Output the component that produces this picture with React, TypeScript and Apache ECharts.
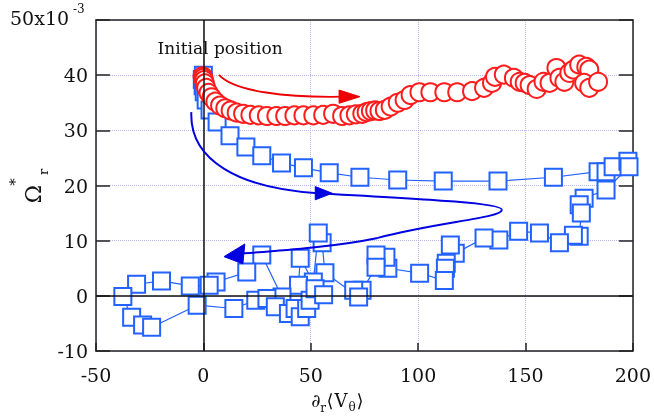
import React, { useEffect, useRef } from "react";
import * as echarts from "echarts";

// Red circles trajectory (x = ∂r<Vθ>, y = Ω* ×10^-3)
const redX = [-0.4, 0, 0.3, 0.7, 1.3, 2.4, 3.8, 5.6, 7.8, 10.2, 12.7, 15.5, 18.5, 21.9, 25.8, 29.6, 34.0, 38.1, 42.4, 46.6, 51.2, 55.8, 60.4, 64.6, 68.0, 71.0, 74.0, 76.0, 78.0, 80.0, 82.0, 84.5, 87.2, 90.5, 93.7, 96.5, 100.6, 105.7, 112.2, 118.2, 125.1, 130.7, 134.4, 135.8, 139.9, 144.6, 147.3, 149.6, 151.9, 155.2, 158.4, 161.2, 164.4, 165.8, 168.1, 170.4, 172.3, 175.0, 178.3, 179.7, 177.3, 179.7, 183.8];
const redY = [39.8, 39.5, 39.1, 38.5, 37.7, 36.8, 36.0, 35.2, 34.5, 34.0, 33.6, 33.2, 33.0, 32.8, 32.7, 32.6, 32.6, 32.6, 32.7, 32.7, 32.7, 32.8, 33.0, 32.6, 32.7, 32.9, 33.0, 33.3, 33.5, 33.6, 33.5, 33.7, 34.3, 35.0, 35.5, 36.4, 36.9, 36.9, 36.9, 36.9, 37.1, 37.7, 38.6, 39.7, 40.1, 39.5, 38.8, 38.6, 38.2, 37.5, 38.8, 38.6, 41.3, 39.5, 38.8, 40.4, 41.0, 41.9, 41.5, 41.0, 38.6, 37.7, 38.8];

// Blue squares trajectory
const blueX = [0, -0.5, -0.1, 0.4, 1.3, 3.1, 6.4, 12.4, 19.8, 27.2, 36.4, 46.6, 58.6, 72.9, 90.5, 111.7, 137.2, 163.0, 183.8, 187.5, 190.8, 197.7, 198.2, 187.5, 177.3, 175.0, 176.0, 175.0, 172.3, 165.8, 156.5, 146.8, 137.6, 130.7, 117.3, 115.0, 113.1, 112.7, 112.2, 100.7, 85.9, 85.0, 80.4, 80.4, 73.9, 70.0, 72.3, 56.6, 55.3, 53.5, 51.2, 45.1, 44.3, 36.6, 27.2, 20.2, 5.9, 2.7, -6.1, -19.5, -31.1, -37.5, -33.4, -28.3, -24.1, -2.9, 14.2, 24.4, 29.6, 33.5, 39.6, 42.7, 45.1, 48.1, 49.7, 52.0, 56.0];
const blueY = [40, 39.2, 38.1, 37.0, 35.5, 33.7, 31.5, 29.0, 27.0, 25.4, 24.1, 23.2, 22.3, 21.5, 21.0, 20.8, 20.8, 21.5, 22.5, 22.5, 23.4, 24.4, 23.4, 19.2, 17.7, 16.5, 15.0, 10.8, 11.0, 9.6, 11.4, 11.7, 10.1, 10.5, 7.7, 9.2, 5.9, 5.0, 2.8, 4.1, 5.0, 7.0, 7.4, 5.2, 1.0, 1.0, -0.2, 4.2, 9.6, 11.4, 2.5, 6.8, 1.9, -0.2, 7.4, 4.3, 2.5, 1.9, 1.8, 2.7, 2.1, -0.1, -3.9, -5.3, -5.7, -1.7, -2.3, -0.8, -0.5, -2.0, -3.2, -2.3, -3.8, -2.3, -0.8, 1.3, 0.2];

const xTicks = [-50, 0, 50, 100, 150, 200];
const yTicks = [-10, 0, 10, 20, 30, 40, 50];

// Annotation arrows, in data coordinates
const redArrow = { p0: [7.3, 40.05], c1: [14.2, 37.0], c2: [39.6, 35.9], p3: [65.1, 36.1], tip: [72.9, 36.1], b1: [63.2, 37.3], b2: [63.2, 34.9] };
const blueArrowSegs = [
  { p0: [-5.6, 33.3], c1: [-6.6, 24.6], c2: [16.5, 19.5], p3: [53.5, 18.6] },
  { p0: [53.5, 18.6], c1: [104.3, 17.5], c2: [139.0, 16.8], p3: [139.0, 15.6] },
  { p0: [139.0, 15.6], c1: [139.0, 14.1], c2: [109.0, 13.4], p3: [81.2, 10.5] },
  { p0: [81.2, 10.5], c1: [62.8, 9.0], c2: [39.6, 8.3], p3: [18.9, 7.7] },
];
const blueHeads = [
  { tip: [60.0, 18.6], b1: [52.1, 19.8], b2: [52.1, 17.4] },
  { tip: [9.6, 7.1], b1: [19.3, 9.4], b2: [18.4, 5.8] },
];

const SERIF = '"DejaVu Serif", "Liberation Serif", serif';
const BLUE = "#2262ff";
const RED = "#ff1c1c";

export default function App() {
  const ref = useRef<HTMLDivElement>(null);
  useEffect(() => {
    if (!ref.current) return;
    const chart = echarts.init(ref.current, null, { renderer: "svg" });
    const bluePts = blueX.map((x, i) => [x, blueY[i]]);
    const redPts = redX.map((x, i) => [x, redY[i]]);
    const axisCommon = {
      type: "value" as const,
      axisLine: { show: true, onZero: false, lineStyle: { color: "#222", width: 1.5 } },
    };
    chart.setOption({
      animation: false,
      grid: { left: 96, right: 17, top: 20, bottom: 68, containLabel: false },
      xAxis: [
        {
          ...axisCommon,
          position: "bottom",
          min: xTicks[0],
          max: xTicks[xTicks.length - 1],
          interval: 50,
          axisTick: { show: true, inside: true, length: 8, lineStyle: { color: "#222", width: 1.5 } },
          axisLabel: { fontFamily: SERIF, fontSize: 19, color: "#111", margin: 14 },
          splitLine: { show: true, lineStyle: { type: "dotted", color: "#b8b8f0", width: 1 } },
        },
        {
          ...axisCommon,
          position: "top",
          min: xTicks[0],
          max: xTicks[xTicks.length - 1],
          interval: 50,
          axisTick: { show: false },
          axisLabel: { show: false },
          splitLine: { show: false },
        },
      ],
      yAxis: [
        {
          ...axisCommon,
          position: "left",
          min: yTicks[0],
          max: yTicks[yTicks.length - 1],
          interval: 10,
          axisTick: { show: true, inside: true, length: 14, lineStyle: { color: "#222", width: 1.5 } },
          axisLabel: {
            fontFamily: SERIF,
            fontSize: 19,
            color: "#111",
            margin: 8,
            formatter: (v: number) => (v === 50 ? "" : String(v)),
          },
          splitLine: { show: true, lineStyle: { type: "dotted", color: "#b8b8f0", width: 1 } },
        },
        {
          ...axisCommon,
          position: "right",
          min: yTicks[0],
          max: yTicks[yTicks.length - 1],
          interval: 10,
          axisTick: { show: true, inside: true, length: 14, lineStyle: { color: "#222", width: 1.5 } },
          axisLabel: { show: false },
          splitLine: { show: false },
        },
      ],
      series: [
        {
          name: "zero",
          type: "line",
          data: [[0, 0]],
          showSymbol: false,
          lineStyle: { width: 0 },
          z: 1,
          markLine: {
            silent: true,
            symbol: ["none", "none"],
            label: { show: false },
            lineStyle: { color: "#111", type: "solid", width: 1.5 },
            data: [{ xAxis: 0 }, { yAxis: 0 }],
          },
        },
        {
          name: "blue",
          type: "line",
          data: bluePts,
          symbol: "rect",
          symbolSize: 17,
          showSymbol: true,
          showAllSymbol: true,
          itemStyle: { color: "#ffffff", borderColor: BLUE, borderWidth: 2, opacity: 1 },
          lineStyle: { color: BLUE, width: 1.2 },
          z: 3,
        },
        {
          name: "red",
          type: "scatter",
          data: redPts,
          symbol: "circle",
          symbolSize: 18,
          itemStyle: { color: "#ffffff", borderColor: RED, borderWidth: 2, opacity: 1 },
          z: 4,
        },
      ],
    });

    const px = (p: number[]) => chart.convertToPixel({ gridIndex: 0 }, p) as number[];
    const bez = (s: any, color: string, w: number) => {
      const a = px(s.p0), b = px(s.c1), c = px(s.c2), d = px(s.p3);
      return {
        type: "bezierCurve",
        shape: { x1: a[0], y1: a[1], cpx1: b[0], cpy1: b[1], cpx2: c[0], cpy2: c[1], x2: d[0], y2: d[1] },
        style: { stroke: color, lineWidth: w, fill: null },
        z: 10,
      };
    };
    const head = (h: any, color: string) => ({
      type: "polygon",
      shape: { points: [px(h.tip), px(h.b1), px(h.b2)] },
      style: { fill: color, stroke: color, lineWidth: 1 },
      z: 11,
    });
    const txt = (text: string, x: number, y: number, size: number, extra: any = {}) => ({
      type: "text",
      x,
      y,
      style: { text, fontFamily: SERIF, fontSize: size, fill: "#111", align: "center", verticalAlign: "middle", ...extra },
      z: 12,
    });
    const ip = px([7.8, 44.9]);

    chart.setOption({
      graphic: [
        bez(redArrow, "#ee0000", 1.8),
        head(redArrow, "#ee0000"),
        ...blueArrowSegs.map((s) => bez(s, "#0000e0", 2)),
        ...blueHeads.map((h) => head(h, "#0000e0")),
        txt("Initial position", ip[0], ip[1], 17),
        txt("50x10", 10, 18, 19, { align: "left" }),
        txt("-3", 73, 9, 12, { align: "left" }),
        {
          type: "group",
          x: 42,
          y: 202,
          rotation: Math.PI / 2,
          children: [
            txt("Ω", 8, -9, 22),
            txt("*", 20, -27, 15),
            txt("r", 30, 1, 13),
          ],
        },
        txt("∂", 316, 400, 18),
        txt("r", 323, 408, 12),
        txt("⟨", 330, 400, 18),
        txt("V", 341, 400, 18),
        txt("θ", 352, 407, 12),
        txt("⟩", 360, 400, 18),
      ],
    });
    return () => chart.dispose();
  }, []);
  return <div ref={ref} style={{ position: "fixed", left: 0, top: 0, width: 654, height: 419 }} />;
}
